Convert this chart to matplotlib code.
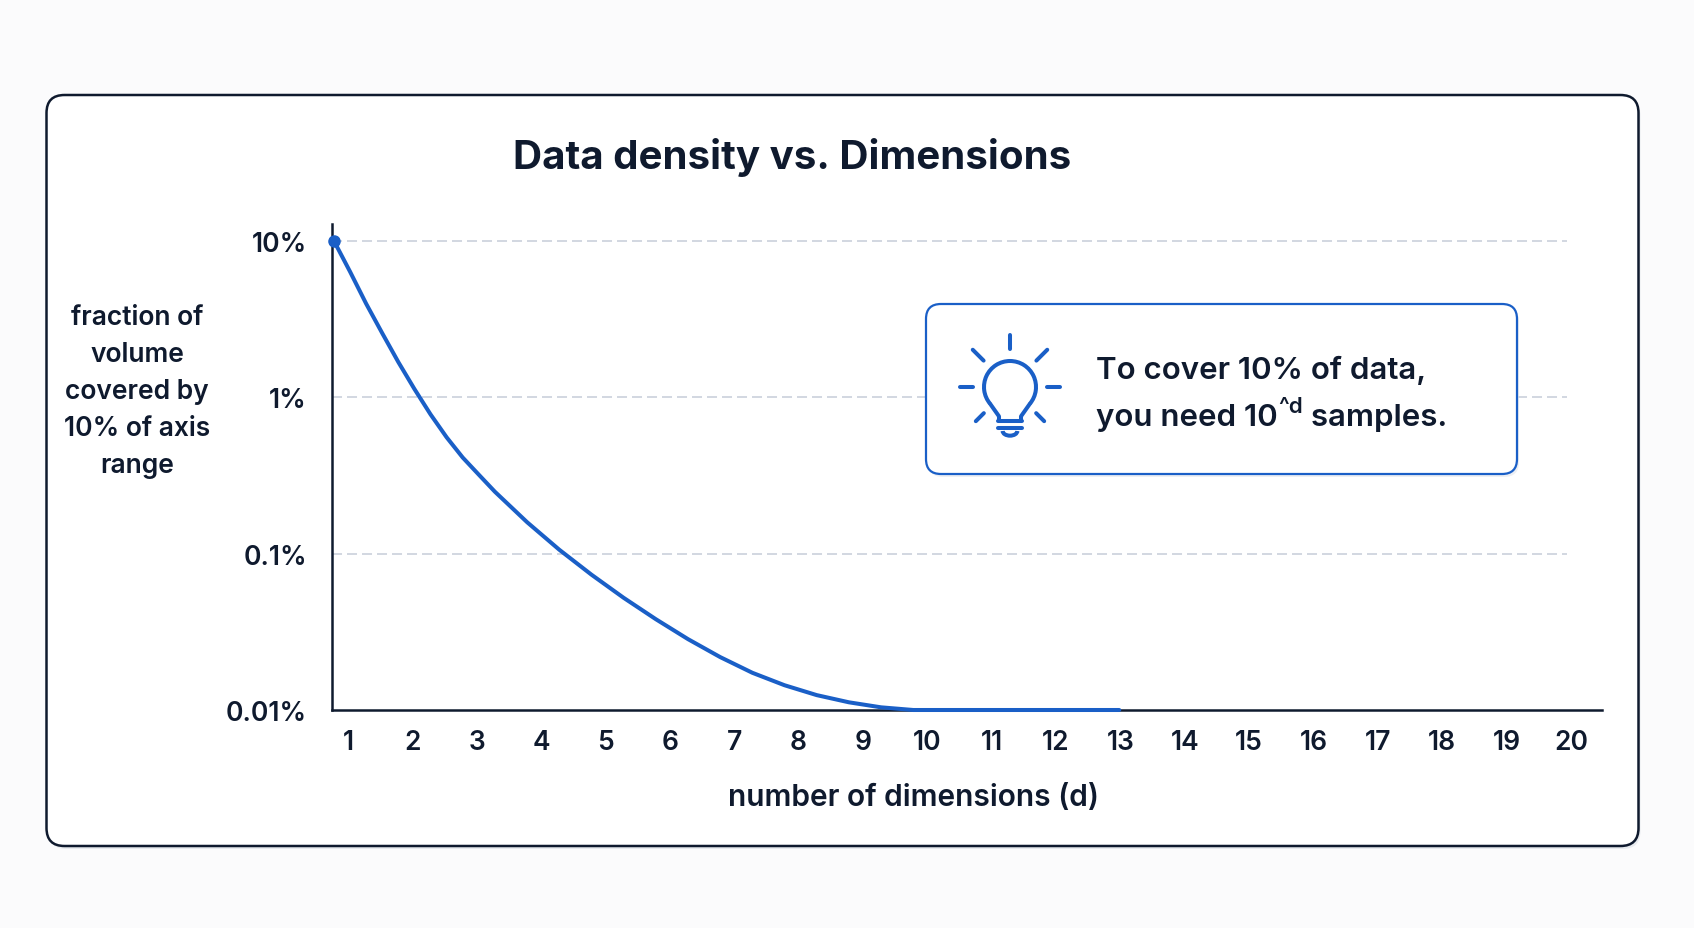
import numpy as np
import matplotlib
matplotlib.use("Agg")
import matplotlib.pyplot as plt
from matplotlib.patches import FancyBboxPatch, Arc
from matplotlib.transforms import ScaledTranslation
from matplotlib import font_manager

# ---------------- data ----------------
dims = [1, 1.25, 1.5, 1.75, 2, 2.25, 2.5, 2.75, 3, 3.25, 3.5, 3.75, 4, 4.5, 5, 5.5, 6, 6.5, 7,
        7.5, 8, 8.5, 9, 9.5, 10, 11, 12, 13.2]
fraction_pct = [10, 6.36, 3.97, 2.57, 1.68, 1.13, 0.778, 0.555, 0.412, 0.320, 0.249, 0.199,
                0.159, 0.106, 0.0734, 0.0522, 0.0381, 0.0284, 0.0218, 0.0173, 0.0144, 0.01245,
                0.0112, 0.0104, 0.0100, 0.0100, 0.0100, 0.0100]
x_ticks = list(range(1, 21))
y_ticks = [0.01, 0.1, 1, 10]
y_tick_labels = ["0.01%", "0.1%", "1%", "10%"]
grid_levels = [0.1, 1, 10]

title = "Data density vs. Dimensions"
x_label = "number of dimensions (d)"
y_label = "fraction of\nvolume\ncovered by\n10% of axis\nrange"
note_line1 = "To cover 10% of data,"
note_line2a = "you need 10"
note_sup = "^d"
note_line2b = " samples."

# ---------------- style ----------------
FONT = "Inter"
avail = {f.name for f in font_manager.fontManager.ttflist}
if FONT not in avail:
    FONT = "DejaVu Sans"
plt.rcParams["font.family"] = [FONT, "DejaVu Sans"]

W, H = 1694, 929
DPI = 100
NAVY = "#0f1a2e"
BLUE = "#1a5fc7"
GRID = "#c5ccd8"

fig = plt.figure(figsize=(W / DPI, H / DPI), dpi=DPI)
fig.patch.set_facecolor("#fbfbfc")

# background overlay (pixel coordinates)
bg = fig.add_axes([0, 0, 1, 1], zorder=0)
bg.set_xlim(0, W); bg.set_ylim(H, 0); bg.axis("off")
bg.add_patch(FancyBboxPatch((48.5, 99), 1592, 751, boxstyle="round,pad=0,rounding_size=18",
                            fc="#e4e7ec", ec="none", alpha=0.8))
bg.add_patch(FancyBboxPatch((46.5, 96), 1592, 751, boxstyle="round,pad=0,rounding_size=18",
                            fc="white", ec=NAVY, lw=1.8))

# main axes
axL, axR, axB, axT = 332, 1602, 711, 225
ax = fig.add_axes([axL / W, 1 - axB / H, (axR - axL) / W, (axB - axT) / H], zorder=1)
ax.set_facecolor("none")
ax.set_yscale("log")
ax.set_xlim(0.969, 20.70)
ax.set_ylim(0.01, 12.85)

for lvl in grid_levels:
    ax.hlines(lvl, 0.969, 20.15, colors=GRID, lw=1.08, linestyles=(0, (6.67, 3.33)), zorder=1)

ax.plot(dims, fraction_pct, color=BLUE, lw=2.9, solid_capstyle="round",
        solid_joinstyle="round", zorder=3, clip_on=False)
ax.plot([dims[0]], [fraction_pct[0]], "o", color=BLUE, ms=8, zorder=4, clip_on=False)

for s in ["top", "right"]:
    ax.spines[s].set_visible(False)
for s in ["left", "bottom"]:
    ax.spines[s].set_color(NAVY)
    ax.spines[s].set_linewidth(1.8)

ax.set_xticks(x_ticks)
ax.set_xticklabels([str(t) for t in x_ticks])
ax.set_yticks(y_ticks)
ax.set_yticklabels(y_tick_labels)
ax.yaxis.set_minor_locator(matplotlib.ticker.NullLocator())
ax.tick_params(axis="x", length=0, pad=14, labelsize=19, labelcolor=NAVY)
ax.tick_params(axis="y", length=0, pad=18, labelsize=19, labelcolor=NAVY)
for lab in ax.get_xticklabels() + ax.get_yticklabels():
    lab.set_fontweight("semibold")
off = ScaledTranslation(14 / DPI, 0, fig.dpi_scale_trans)
for lab in ax.get_xticklabels():
    lab.set_transform(lab.get_transform() + off)

# texts
fig.text(792.5 / W, 1 - 157.5 / H, title, ha="center", va="center", fontsize=29,
         fontweight="bold", color=NAVY)
fig.text(913.5 / W, 1 - 798 / H, x_label, ha="center", va="center", fontsize=21.5,
         fontweight="semibold", color=NAVY)
fig.text(137 / W, 1 - 392 / H, y_label, ha="center", va="center", fontsize=19,
         fontweight="semibold", color=NAVY, linespacing=1.55, multialignment="center")

# foreground overlay (annotation box)
fg = fig.add_axes([0, 0, 1, 1], zorder=2)
fg.set_xlim(0, W); fg.set_ylim(H, 0); fg.axis("off"); fg.set_facecolor("none")
fg.add_patch(FancyBboxPatch((928, 308), 591, 170, boxstyle="round,pad=0,rounding_size=15",
                            fc="#e6e9ee", ec="none", alpha=0.7))
fg.add_patch(FancyBboxPatch((926, 305), 591, 170, boxstyle="round,pad=0,rounding_size=15",
                            fc="white", ec=BLUE, lw=1.6))

# light bulb icon (centre of the bulb glass); units are 1/3 px
cx, cy, s = 1010, 388, 1 / 3.0
lw_icon = 2.9
R = 78
fg.add_patch(Arc((cx, cy), 2 * R * s, 2 * R * s, theta1=140, theta2=400, color=BLUE,
                 lw=lw_icon))
a1 = np.deg2rad(220); a2 = np.deg2rad(-40)
lx, ly = cx + R * s * np.cos(a1), cy - R * s * np.sin(a1)
rx, ry = cx + R * s * np.cos(a2), cy - R * s * np.sin(a2)
fg.plot([lx, cx - 33 * s, cx - 33 * s], [ly, cy + 88 * s, cy + 100 * s], color=BLUE, lw=lw_icon,
        solid_capstyle="round", solid_joinstyle="round")
fg.plot([rx, cx + 33 * s, cx + 33 * s], [ry, cy + 88 * s, cy + 100 * s], color=BLUE, lw=lw_icon,
        solid_capstyle="round", solid_joinstyle="round")
fg.plot([cx - 36 * s, cx + 36 * s], [cy + 102 * s, cy + 102 * s], color=BLUE, lw=lw_icon,
        solid_capstyle="round")
fg.plot([cx - 36 * s, cx + 36 * s], [cy + 124 * s, cy + 124 * s], color=BLUE, lw=lw_icon,
        solid_capstyle="round")
fg.add_patch(Arc((cx, cy + 132 * s), 44 * s, 28 * s, theta1=0, theta2=180, color=BLUE,
                 lw=lw_icon))
rays = [(90, 114, 156), (135, 112, 158), (45, 112, 158), (180, 111, 150), (0, 111, 150),
        (225, 111, 145), (-45, 111, 145)]
for ang, r0, r1 in rays:
    a = np.deg2rad(ang)
    fg.plot([cx + r0 * s * np.cos(a), cx + r1 * s * np.cos(a)],
            [cy - r0 * s * np.sin(a), cy - r1 * s * np.sin(a)], color=BLUE, lw=lw_icon,
            solid_capstyle="round")

tx = 1095.7
fg.text(tx, 370, note_line1, ha="left", va="center", fontsize=22.5, fontweight="semibold",
        color=NAVY)
t2 = fg.text(tx, 418, note_line2a, ha="left", va="center", fontsize=22.5, fontweight="semibold",
             color=NAVY)
fig.canvas.draw()
r = fig.canvas.get_renderer()
bb = t2.get_window_extent(renderer=r)
x_sup = bb.x1 + 1
t3 = fg.text(x_sup, 407, note_sup, ha="left", va="center", fontsize=16, fontweight="semibold",
             color=NAVY)
bb3 = t3.get_window_extent(renderer=r)
fg.text(bb3.x1, 418, note_line2b, ha="left", va="center", fontsize=22.5, fontweight="semibold",
        color=NAVY)

fig.savefig("out.png", dpi=DPI, facecolor=fig.get_facecolor())
